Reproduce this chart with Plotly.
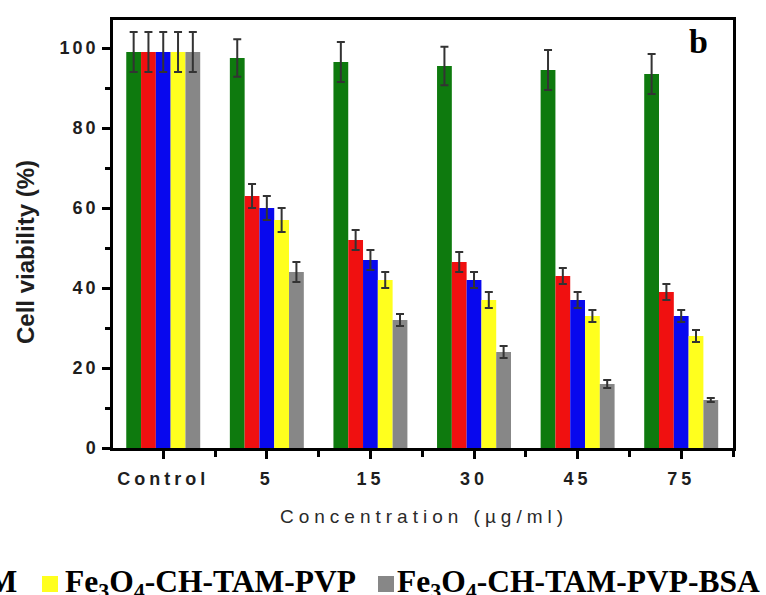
import plotly.graph_objects as go

# ---------------- data ----------------
categories = ["Control", "5", "15", "30", "45", "75"]
series_names = ["Fe3O4", "Fe3O4-CH", "Fe3O4-CH-TAM", "Fe3O4-CH-TAM-PVP", "Fe3O4-CH-TAM-PVP-BSA"]

green_vals = [99, 97.5, 96.5, 95.5, 94.5, 93.5]
green_err = [5, 4.7, 5, 4.8, 5, 5]
red_vals = [99, 63, 52, 46.5, 43, 39]
red_err = [5, 3, 2.5, 2.5, 2, 2]
blue_vals = [99, 60, 47, 42, 37, 33]
blue_err = [5, 3, 2.5, 2, 2, 1.5]
yellow_vals = [99, 57, 42, 37, 33, 28]
yellow_err = [5, 3, 2, 2, 1.5, 1.5]
gray_vals = [99, 44, 32, 24, 16, 12]
gray_err = [5, 2.5, 1.5, 1.5, 1, 0.5]

y_tick_vals = [0, 20, 40, 60, 80, 100]

colors = ["#0e7a0e", "#f01010", "#0808ee", "#ffff1e", "#878787"]
values = [green_vals, red_vals, blue_vals, yellow_vals, gray_vals]
errors = [green_err, red_err, blue_err, yellow_err, gray_err]

# ---------------- figure ----------------
W, H = 766, 595
L, R, T, B = 113, 33, 20, 147
PW, PH = W - L - R, H - T - B


def px_x(px):
    return (px - L) / PW


def px_y(py):
    return (H - B - py) / PH


def chem(name):
    return name.replace("Fe3O4", "Fe<sub>3</sub>O<sub>4</sub>")


def spaced(text, sp):
    return f'<span style="letter-spacing:{sp}px">{text}</span>'


xpos = list(range(len(categories)))

fig = go.Figure()
for name, vals, errs, col in zip(series_names, values, errors, colors):
    fig.add_trace(go.Bar(
        x=xpos, y=vals, name=name,
        marker=dict(color=col, line=dict(width=0)),
        error_y=dict(type="data", array=errs, visible=True,
                     color="#333333", thickness=2, width=4),
        showlegend=False,
    ))

tickfont = dict(family="Liberation Sans, Arial", size=18, color="#1e1e1e", weight="bold")

fig.update_layout(
    width=W, height=H, autosize=False,
    margin=dict(l=L, r=R, t=T, b=B, pad=0),
    paper_bgcolor="white", plot_bgcolor="white",
    barmode="group", bargap=0.286, bargroupgap=0.0,
    xaxis=dict(
        range=[-0.485, 5.5],
        tickvals=xpos,
        ticktext=[spaced(c, 4) for c in categories],
        tickfont=tickfont,
        ticks="outside", ticklen=8, tickwidth=2.5, tickcolor="black",
        ticklabelstandoff=5,
        minor=dict(tickvals=[p + 0.5 for p in xpos], ticks="outside",
                   ticklen=6, tickwidth=2.5, tickcolor="black"),
        showline=True, linecolor="black", linewidth=2.5, mirror=True,
        showgrid=False, zeroline=False,
    ),
    yaxis=dict(
        range=[0, 107],
        tickvals=y_tick_vals,
        ticktext=[spaced(str(v), 3) for v in y_tick_vals],
        tickfont=tickfont,
        ticks="outside", ticklen=8, tickwidth=2.5, tickcolor="black",
        minor=dict(tickvals=[v + 10 for v in y_tick_vals[:-1]], ticks="outside",
                   ticklen=5, tickwidth=2.5, tickcolor="black"),
        showline=True, linecolor="black", linewidth=2.5, mirror=True,
        showgrid=False, zeroline=False,
    ),
)

annotations = [
    # y axis title
    dict(text="<b>Cell viability (%)</b>", x=px_x(25), y=px_y(252), xref="paper", yref="paper",
         xanchor="center", yanchor="middle", textangle=-90, showarrow=False,
         font=dict(family="Liberation Sans, Arial", size=24, color="#1e1e1e")),
    # x axis title
    dict(text=spaced("Concentration (µg/ml)", 5), x=px_x(424), y=px_y(516), xref="paper", yref="paper",
         xanchor="center", yanchor="middle", showarrow=False,
         font=dict(family="Liberation Sans, Arial", size=19, color="#2a2a2a")),
    # panel letter
    dict(text="<b>b</b>", x=px_x(698), y=px_y(42), xref="paper", yref="paper",
         xanchor="center", yanchor="middle", showarrow=False,
         font=dict(family="Liberation Serif, Times New Roman", size=34, color="black")),
]

legend_font = dict(family="Liberation Serif, Times New Roman", size=31.5, color="black", weight="bold")
# legend row (cropped at the figure's left edge, as in the reference)
legend_items = [
    (series_names[2], colors[2], None, 19),
    (series_names[3], colors[3], 42, 63),
    (series_names[4], colors[4], 378, 395),
]
shapes = []
for name, col, sq_x, tx in legend_items:
    annotations.append(dict(text=chem(name), x=px_x(tx), y=px_y(584), xref="paper", yref="paper",
                            xanchor="right" if sq_x is None else "left", yanchor="middle",
                            showarrow=False, font=legend_font))
    if sq_x is not None:
        shapes.append(dict(type="rect", xref="paper", yref="paper",
                           x0=px_x(sq_x), x1=px_x(sq_x + 16), y0=px_y(592), y1=px_y(576),
                           fillcolor=col, line=dict(width=0)))

fig.update_layout(annotations=annotations, shapes=shapes)

fig.write_html("out.html", config={"displayModeBar": False},
               post_script="document.body.style.margin='0';document.body.style.overflow='hidden';")
